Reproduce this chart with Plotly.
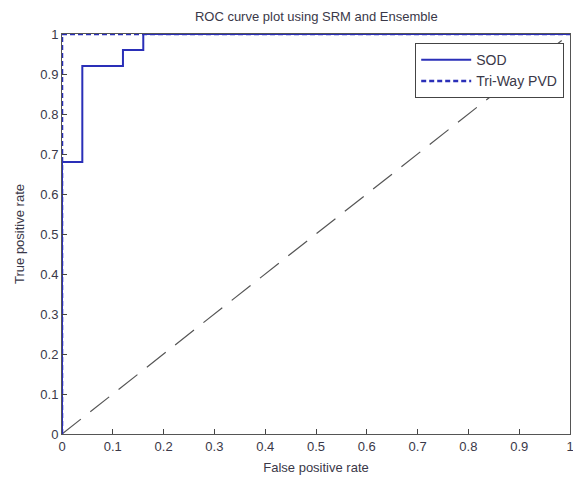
import plotly.graph_objects as go

sod_fpr = [0, 0, 0.04, 0.04, 0.12, 0.12, 0.16, 0.16, 1]
sod_tpr = [0, 0.68, 0.68, 0.92, 0.92, 0.96, 0.96, 1, 1]
pvd_fpr = [0, 0, 1]
pvd_tpr = [0, 1, 1]
diag = [0, 1]
ticks = [0, 0.1, 0.2, 0.3, 0.4, 0.5, 0.6, 0.7, 0.8, 0.9, 1]
tick_text = ["0", "0.1", "0.2", "0.3", "0.4", "0.5", "0.6", "0.7", "0.8", "0.9", "1"]

blue = "#2a2fb8"
txt = "#3a3848"
fam = "Liberation Sans, Arial"
fig = go.Figure()
fig.add_trace(go.Scatter(x=diag, y=diag, mode="lines", showlegend=False,
                         line=dict(color="#555555", width=1.2, dash="24px,12px")))
fig.add_trace(go.Scatter(x=sod_fpr, y=sod_tpr, mode="lines", name="SOD",
                         line=dict(color=blue, width=2)))
fig.add_trace(go.Scatter(x=pvd_fpr, y=pvd_tpr, mode="lines", name="Tri-Way PVD",
                         line=dict(color=blue, width=2.5, dash="5px,3px")))

font = dict(family=fam, size=13, color=txt)
axis = dict(range=[0, 1], tickvals=ticks, ticktext=tick_text, ticks="inside",
            ticklen=5, tickcolor="#444", showline=True, linecolor="#555",
            linewidth=1, mirror=True, showgrid=False, zeroline=False,
            automargin=False, ticklabeloverflow="allow",
            tickfont=dict(family=fam, size=13, color=txt))
fig.update_layout(
    width=573, height=477,
    margin=dict(l=62, r=3, t=34, b=43),
    paper_bgcolor="white", plot_bgcolor="white",
    title=dict(text="ROC curve plot using SRM and Ensemble", x=0.552, xanchor="center",
               y=0.975, yanchor="top", font=dict(family=fam, size=13, color=txt)),
    xaxis=dict(axis, title=dict(text="False positive rate", font=font, standoff=10)),
    yaxis=dict(axis, title=dict(text="True positive rate", font=font, standoff=12)),
    legend=dict(x=0.988, y=0.978, xanchor="right", yanchor="top",
                bgcolor="white", bordercolor="#444", borderwidth=1.3,
                font=dict(family=fam, size=14, color=txt),
                itemwidth=50, tracegroupgap=0),
    showlegend=True,
)
fig.write_html("out.html", post_script="document.body.style.margin='0';",
               config={"displayModeBar": False})
